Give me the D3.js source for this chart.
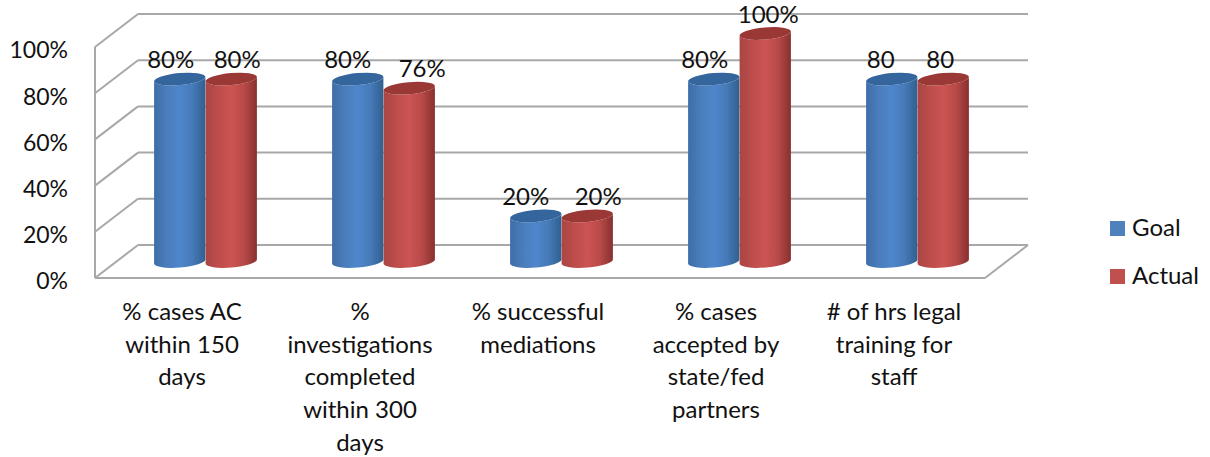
<!DOCTYPE html>
<html>
<head>
<meta charset="utf-8">
<script src="https://cdn.jsdelivr.net/npm/d3@7"></script>
<style>
  html, body { margin: 0; background: #fff; }
  text { font-family: Lato, "Open Sans", sans-serif; fill: #111; }
</style>
</head>
<body>
<div id="chart"></div>
<script>
// values
var categories = [
  ["% cases AC", "within 150", "days"],
  ["%", "investigations", "completed", "within 300", "days"],
  ["% successful", "mediations"],
  ["% cases", "accepted by", "state/fed", "partners"],
  ["# of hrs legal", "training for", "staff"]
];
var seriesNames = ["Goal", "Actual"];
var goalValues = [80, 80, 20, 80, 80];
var actualValues = [80, 76, 20, 100, 80];
var goalLabels = ["80%", "80%", "20%", "80%", "80"];
var actualLabels = ["80%", "76%", "20%", "100%", "80"];
var yTicks = [0, 20, 40, 60, 80, 100];

var width = 1210, height = 457;
var fontSize = 24;

// 3d box of the plot: front face plus a depth shift up and to the right
var front = {left: 95, right: 985, top: 47, bottom: 278};
var depth = {x: 43, y: -33};
var tilt = -5; // degrees, the ellipses lean up to the right
var ry = 6;

var svg = d3.select("#chart").append("svg")
  .attr("width", width)
  .attr("height", height);

var y = d3.scaleLinear().domain([0, 100]).range([front.bottom, front.top]);
// the cylinders stand halfway into the box, so they get their own slightly shorter scale
var yBar = d3.scaleLinear().domain([0, 100]).range([261.5, 33.5]);
var x0 = d3.scaleBand()
  .domain(d3.range(categories.length))
  .range([front.left + depth.x / 2, front.right + depth.x / 2]);
var x1 = d3.scaleBand().domain(seriesNames).range([-51.5, 51.5]);

// gradients for the cylinder bodies
var colors = {
  Goal: {stops: ["#3d6ea8", "#4a7dbb", "#4f86cc", "#467ab8", "#30608f"], top: "#34659c", legend: "#4f81bd"},
  Actual: {stops: ["#a94644", "#bd4d4b", "#cc5452", "#b84a48", "#87302e"], top: "#9a3836", legend: "#c0504d"}
};
var defs = svg.append("defs");
seriesNames.forEach(function(s) {
  var g = defs.append("linearGradient").attr("id", "grad" + s);
  colors[s].stops.forEach(function(c, i) {
    g.append("stop").attr("offset", (i * 25) + "%").attr("stop-color", c);
  });
});

// grid: back wall lines, left wall diagonals, floor
var grid = svg.append("g")
  .attr("fill", "none")
  .attr("stroke", "#a8a8a8")
  .attr("stroke-width", 2);

yTicks.forEach(function(t) {
  grid.append("line")
    .attr("x1", front.left + depth.x).attr("x2", front.right + depth.x)
    .attr("y1", y(t) + depth.y).attr("y2", y(t) + depth.y);
  grid.append("line")
    .attr("x1", front.left).attr("x2", front.left + depth.x)
    .attr("y1", y(t)).attr("y2", y(t) + depth.y);
});
grid.append("line")
  .attr("x1", front.left).attr("x2", front.left)
  .attr("y1", y(100)).attr("y2", y(0));
grid.append("line")
  .attr("x1", front.left).attr("x2", front.right)
  .attr("y1", y(0)).attr("y2", y(0));
grid.append("line")
  .attr("x1", front.right).attr("x2", front.right + depth.x)
  .attr("y1", y(0)).attr("y2", y(0) + depth.y);

// y axis
var yAxis = d3.axisLeft(y)
  .tickValues(yTicks)
  .tickSize(0)
  .tickPadding(0)
  .tickFormat(function(d) { return d + "%"; });
var axisG = svg.append("g")
  .attr("transform", "translate(" + (front.left - 27) + ",3.5)")
  .call(yAxis);
axisG.select(".domain").remove();
axisG.selectAll("text")
  .attr("font-size", 23)
  .style("font-family", "Lato, sans-serif")
  .attr("fill", "#111");

// cylinders
function cylinderPath(cx, yTop, yBase, rx) {
  var a = tilt * Math.PI / 180;
  var dx = rx * Math.cos(a), dy = rx * Math.sin(a);
  return "M" + (cx - dx) + "," + (yTop - dy) +
    "L" + (cx - dx) + "," + (yBase - dy) +
    "A" + rx + "," + ry + " " + tilt + " 0 0 " + (cx + dx) + "," + (yBase + dy) +
    "L" + (cx + dx) + "," + (yTop + dy) +
    "A" + rx + "," + ry + " " + tilt + " 0 1 " + (cx - dx) + "," + (yTop - dy) + "Z";
}

var seriesValues = {Goal: goalValues, Actual: actualValues};
var seriesLabels = {Goal: goalLabels, Actual: actualLabels};
var labelShift = {Goal: [-9, -10, -10, -9, -11], Actual: [6, 13, 11, 3, -3]};
var rx = x1.bandwidth() / 2;

var marks = svg.append("g");
categories.forEach(function(c, i) {
  seriesNames.forEach(function(s) {
    var v = seriesValues[s][i];
    var cx = x0(i) + x0.bandwidth() / 2 + x1(s) + rx;
    var g = marks.append("g");
    g.append("path")
      .attr("d", cylinderPath(cx, yBar(v), yBar(0), rx))
      .attr("fill", "url(#grad" + s + ")");
    g.append("ellipse")
      .attr("rx", rx)
      .attr("ry", ry)
      .attr("transform", "translate(" + cx + "," + yBar(v) + ") rotate(" + tilt + ")")
      .attr("fill", colors[s].top);
  });
});

// value labels go on top of everything
categories.forEach(function(c, i) {
  seriesNames.forEach(function(s) {
    var v = seriesValues[s][i];
    svg.append("text")
      .attr("x", x0(i) + x0.bandwidth() / 2 + x1(s) + rx + labelShift[s][i])
      .attr("y", yBar(v) - 11)
      .attr("text-anchor", "middle")
      .attr("font-size", fontSize)
      .text(seriesLabels[s][i]);
  });
});

// category labels
categories.forEach(function(lines, i) {
  var t = svg.append("text")
    .attr("text-anchor", "middle")
    .attr("font-size", fontSize);
  lines.forEach(function(line, j) {
    t.append("tspan")
      .attr("x", x0(i) + x0.bandwidth() / 2 - depth.x / 2 - 2)
      .attr("y", 320 + j * 32.7)
      .text(line);
  });
});

// legend
var legend = svg.append("g");
seriesNames.forEach(function(s, i) {
  var ly = 221 + i * 48;
  legend.append("rect")
    .attr("x", 1110).attr("y", ly)
    .attr("width", 15).attr("height", 15)
    .attr("fill", colors[s].legend);
  legend.append("text")
    .attr("x", 1132).attr("y", ly + 15)
    .attr("font-size", fontSize)
    .text(s);
});
</script>
</body>
</html>
